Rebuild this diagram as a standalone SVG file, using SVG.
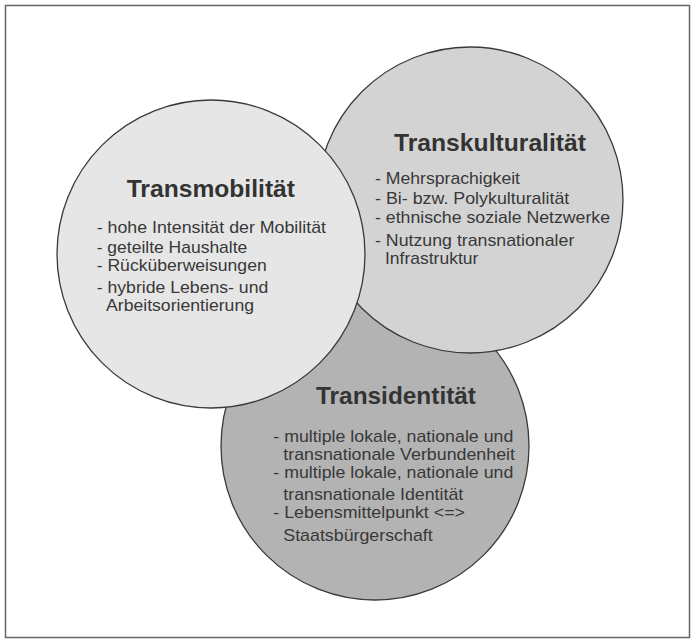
<svg xmlns="http://www.w3.org/2000/svg" width="695" height="643" viewBox="0 0 695 643">
<style>
.frame{fill:#fff;stroke:#666;stroke-width:1.5}
.c{stroke:#3a3a3a;stroke-width:1.3}
.t{font-family:"Liberation Sans",Arial,sans-serif;font-weight:bold;font-size:24px;fill:#333}
.b{font-family:"Liberation Sans",Arial,sans-serif;font-size:17px;fill:#383838}
</style>
<rect class="frame" x="5.5" y="5.5" width="684" height="632"/>
<g id="connectors"></g>
<g id="transidentitaet">
<circle class="c" cx="375" cy="446" r="154" fill="#b3b3b3"/>
<text class="t" x="316" y="404.3" textLength="160" lengthAdjust="spacingAndGlyphs">Transidentität</text>
<text class="b" x="273.3" y="441.7" textLength="240" lengthAdjust="spacingAndGlyphs">- multiple lokale, nationale und</text>
<text class="b" x="283.3" y="460" textLength="231.7" lengthAdjust="spacingAndGlyphs">transnationale Verbundenheit</text>
<text class="b" x="273.3" y="478.3" textLength="240" lengthAdjust="spacingAndGlyphs">- multiple lokale, nationale und</text>
<text class="b" x="283.3" y="500" textLength="180" lengthAdjust="spacingAndGlyphs">transnationale Identität</text>
<text class="b" x="273.3" y="517.7" textLength="191.7" lengthAdjust="spacingAndGlyphs">- Lebensmittelpunkt &lt;=&gt;</text>
<text class="b" x="283.3" y="540.7" textLength="149.4" lengthAdjust="spacingAndGlyphs">Staatsbürgerschaft</text>
</g>
<g id="transkulturalitaet">
<circle class="c" cx="470" cy="200" r="153" fill="#d3d3d3"/>
<text class="t" x="394" y="150.7" textLength="192" lengthAdjust="spacingAndGlyphs">Transkulturalität</text>
<text class="b" x="375" y="184" textLength="145" lengthAdjust="spacingAndGlyphs">- Mehrsprachigkeit</text>
<text class="b" x="375" y="204.3" textLength="194.3" lengthAdjust="spacingAndGlyphs">- Bi- bzw. Polykulturalität</text>
<text class="b" x="375" y="223.3" textLength="235" lengthAdjust="spacingAndGlyphs">- ethnische soziale Netzwerke</text>
<text class="b" x="375" y="245.7" textLength="199.3" lengthAdjust="spacingAndGlyphs">- Nutzung transnationaler</text>
<text class="b" x="385" y="264" textLength="93.3" lengthAdjust="spacingAndGlyphs">Infrastruktur</text>
</g>
<g id="transmobilitaet">
<circle class="c" cx="211" cy="254" r="154" fill="#e6e6e6"/>
<text class="t" x="126.7" y="197.3" textLength="168.3" lengthAdjust="spacingAndGlyphs">Transmobilität</text>
<text class="b" x="96.7" y="233.3" textLength="229.3" lengthAdjust="spacingAndGlyphs">- hohe Intensität der Mobilität</text>
<text class="b" x="96.7" y="252.7" textLength="150.6" lengthAdjust="spacingAndGlyphs">- geteilte Haushalte</text>
<text class="b" x="96.7" y="270.7" textLength="170" lengthAdjust="spacingAndGlyphs">- Rücküberweisungen</text>
<text class="b" x="96.7" y="293.3" textLength="171.6" lengthAdjust="spacingAndGlyphs">- hybride Lebens- und</text>
<text class="b" x="106" y="311" textLength="148" lengthAdjust="spacingAndGlyphs">Arbeitsorientierung</text>
</g>
</svg>
